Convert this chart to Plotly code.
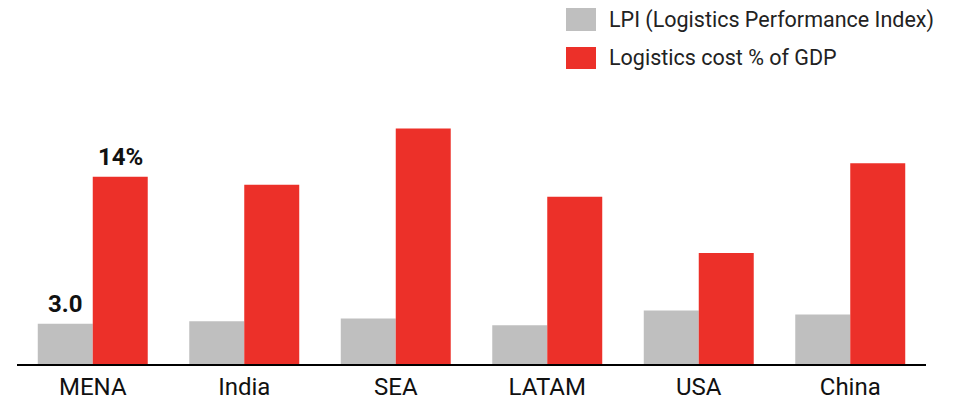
import plotly.graph_objects as go

# Regions compared
regions = ["MENA", "India", "SEA", "LATAM", "USA", "China"]

# Logistics Performance Index score (0-5)
lpi = [3.0, 3.2, 3.4, 2.9, 4.0, 3.7]

# Logistics cost as % of GDP
cost_pct = [14.0, 13.4, 17.6, 12.5, 8.3, 15.0]

series_names = ["LPI (Logistics Performance Index)", "Logistics cost % of GDP"]
GREY = "#BFBFBF"
RED = "#EC3029"
FONT = "Roboto, Arial, sans-serif"

# Figure geometry (pixels)
W, H = 953, 404
ML, MR, MT, MB = 17, 27, 100, 40
PW, PH = W - ML - MR, H - MT - MB


def px_x(x):
    return (x - ML) / PW


def px_y(y):
    return (H - MB - y) / PH


fig = go.Figure()
fig.add_trace(go.Bar(x=regions, y=lpi, name=series_names[0],
                     marker=dict(color=GREY, line=dict(width=0)), showlegend=False))
fig.add_trace(go.Bar(x=regions, y=cost_pct, name=series_names[1],
                     marker=dict(color=RED, line=dict(width=0)), showlegend=False))

# Value call-outs on the first group
half = PW / len(regions) * (1 - 0.274) / 4
annotations = [
    dict(x=regions[0], y=lpi[0], text=f"<b>{lpi[0]:.1f}</b>", xref="x", yref="y",
         xshift=-half, yshift=4, yanchor="bottom", showarrow=False,
         font=dict(family=FONT, size=24, color="#111111")),
    dict(x=regions[0], y=cost_pct[0], text=f"<b>{cost_pct[0]:.0f}%</b>", xref="x", yref="y",
         xshift=half, yshift=4, yanchor="bottom", showarrow=False,
         font=dict(family=FONT, size=24, color="#111111")),
]

# Legend drawn as swatches + labels in the top-right corner
legend_rows = [(series_names[0], GREY, 8, 31), (series_names[1], RED, 47, 69)]
shapes = []
for name, color, y0, y1 in legend_rows:
    shapes.append(dict(type="rect", xref="paper", yref="paper",
                       x0=px_x(566), x1=px_x(596), y0=px_y(y1), y1=px_y(y0),
                       fillcolor=color, line=dict(width=0)))
    annotations.append(dict(x=px_x(607), y=px_y((y0 + y1) / 2), xref="paper", yref="paper",
                            text=name, xanchor="left", yanchor="middle", showarrow=False,
                            font=dict(family=FONT, size=21.5, color="#222222")))

fig.update_layout(
    width=W, height=H,
    margin=dict(l=ML, r=MR, t=MT, b=MB, autoexpand=False),
    paper_bgcolor="white", plot_bgcolor="white",
    barmode="group", bargap=0.274, bargroupgap=0,
    annotations=annotations, shapes=shapes,
    xaxis=dict(showline=True, linecolor="black", linewidth=2, ticks="",
               automargin=False,
               tickfont=dict(family=FONT, size=24, color="#111111"),
               showgrid=False, zeroline=False, fixedrange=True),
    yaxis=dict(range=[0, PH / (187.3 / 14.0)], visible=False, showgrid=False,
               zeroline=False, fixedrange=True, automargin=False),
)

fig.write_html("out.html")
